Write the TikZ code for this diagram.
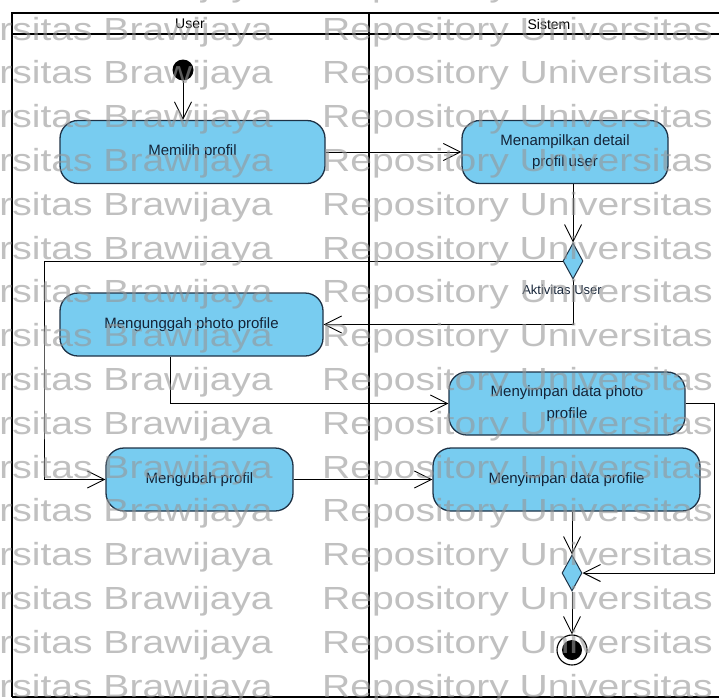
\documentclass[tikz,border=0pt]{standalone}
\usepackage{fontspec}
\setmainfont{Liberation Sans}
\usepackage{graphicx}
\usetikzlibrary{arrows.meta,shapes.geometric}

\definecolor{actfill}{RGB}{120,204,240}
\definecolor{actline}{RGB}{30,50,70}
\definecolor{acttext}{RGB}{20,35,55}
\definecolor{wmgray}{RGB}{150,150,150}

\begin{document}
\begin{tikzpicture}[x=1pt,y=-1pt,
  action/.style={draw=actline, line width=1.3pt, fill=actfill, rounded corners=18pt,
    minimum height=63pt, text=acttext, font=\fontsize{15}{21.5}\selectfont,
    align=center, inner sep=0pt},
  flow/.style={draw=black, line width=0.9pt, -{Straight Barb[length=17pt,width=17pt]}},
  branch/.style={diamond, draw=actline, line width=1pt, fill=actfill,
    minimum width=20pt, minimum height=36pt, inner sep=0pt},
  lane/.style={draw=black, line width=2pt},
  lanetitle/.style={font=\fontsize{14}{16}\selectfont, inner sep=0pt},
  wm/.style={text=wmgray, text opacity=0.6, font=\fontsize{32}{34}\selectfont, inner sep=0pt},
]
\useasboundingbox (0,0) rectangle (719,699);
\clip (0,0) rectangle (719,699);

% swimlane frame
\draw[lane] (11.5,697) -- (11.5,12.5) -- (740,12.5);
\draw[lane] (11.5,34) -- (740,34);
\draw[lane] (369,12.5) -- (369,697);
\draw[lane] (11.5,697) -- (740,697);
\node[lanetitle] (userhdr) at (190,24) {User};
\node[lanetitle] (sistemhdr) at (549,24) {Sistem};

% activities
\node[circle, fill=black, minimum size=21pt, inner sep=0pt] (start) at (183,70) {};
\node[action, minimum width=265pt] (memilih) at (192.5,152) {Memilih profil};
\node[action, minimum width=206pt] (detail) at (565,152) {Menampilkan detail\\profil user};
\node[branch] (dec1) at (573,261) {};
\node[font=\fontsize{13}{15}\selectfont, text=acttext] (declbl) at (562,290) {Aktivitas User};
\node[action, minimum width=263pt] (unggah) at (191.5,324.5) {Mengunggah photo profile};
\node[action, minimum width=236pt] (photo) at (567,403.5) {Menyimpan data photo\\profile};
\node[action, minimum width=187pt] (mengubah) at (199.5,479.5) {Mengubah profil};
\node[action, minimum width=267pt] (profile) at (566.5,479.5) {Menyimpan data profile};
\node[branch] (merge) at (572,573) {};
\node[circle, draw=black, line width=1.1pt, minimum size=30pt, inner sep=0pt] (stop) at (572,650) {};
\node[circle, fill=black, minimum size=20pt, inner sep=0pt] (stopdot) at (stop.center) {};

% bend points of the routed flows
\coordinate (loopturn) at (44,400);
\coordinate (rightturn) at (714,500);

% control flows
\draw[flow] (start.south) -- (start.south |- memilih.north);
\draw[flow] (memilih.east) -- (detail.west);
\draw[flow] (detail.south -| dec1.north) -- (dec1.north);
\draw[flow] (dec1.west) -| (loopturn) |- (mengubah.west);
\draw[flow] (dec1.south) |- (unggah.east);
\draw[flow] ([xshift=-21.5pt]unggah.south) |- (photo.west);
\draw[flow] (photo.east) -| (rightturn) |- (merge.east);
\draw[flow] (mengubah.east) -- (profile.west);
\draw[flow] (profile.south -| merge.north) -- (merge.north);
\draw[flow] (merge.south) -- (stop.north);

% repository watermark rows
\foreach \k in {-1,...,15}{
  \pgfmathsetmacro\yy{40+43.8*\k}
  \node[wm, anchor=base east] (wmL\k) at (273,\yy) {\scalebox{1.22}[1]{Universitas Brawijaya}};
  \node[wm, anchor=base west] (wmR\k) at (322,\yy) {\scalebox{1.22}[1]{Repository Universitas}};
}
\end{tikzpicture}
\end{document}
